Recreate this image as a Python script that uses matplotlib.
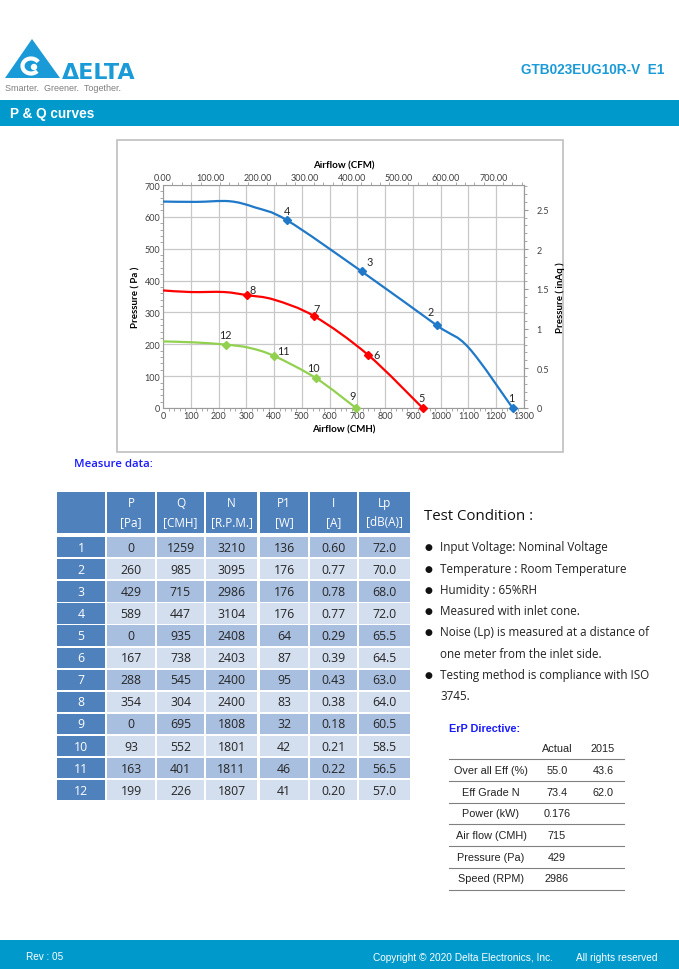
import numpy as np
import matplotlib
matplotlib.use("Agg")
import matplotlib.pyplot as plt
from matplotlib.path import Path
from matplotlib.patches import PathPatch, Polygon, Rectangle, Circle, Arc
from matplotlib.ticker import MultipleLocator, FixedLocator, FuncFormatter

# measured points (table)
p_pa = [0, 260, 429, 589, 0, 167, 288, 354, 0, 93, 163, 199]
q_cmh = [1259, 985, 715, 447, 935, 738, 545, 304, 695, 552, 401, 226]
n_rpm = [3210, 3095, 2986, 3104, 2408, 2403, 2400, 2400, 1808, 1801, 1811, 1807]
p1_w = [136, 176, 176, 176, 64, 87, 95, 83, 32, 42, 46, 41]
i_a = ["0.60", "0.77", "0.78", "0.77", "0.29", "0.39", "0.43", "0.38", "0.18", "0.21", "0.22", "0.20"]
lp_dba = ["72.0", "70.0", "68.0", "72.0", "65.5", "64.5", "63.0", "64.0", "60.5", "58.5", "56.5", "57.0"]

# curve traces (CMH, Pa)
blue_q = [0, 120, 240, 330, 447, 715, 985, 1100, 1259]
blue_p = [648, 647, 649, 630, 589, 429, 260, 190, 0]
red_q = [0, 100, 220, 304, 400, 545, 738, 935]
red_p = [369, 364, 364, 354, 340, 288, 167, 0]
green_q = [0, 110, 226, 310, 401, 552, 695]
green_p = [209, 206, 199, 189, 163, 93, 0]

cfm_ticks = [0, 100, 200, 300, 400, 500, 600, 700]
inaq_ticks = [0, 0.5, 1, 1.5, 2, 2.5]

erp_labels = ["Over all Eff (%)", "Eff Grade N", "Power (kW)", "Air flow (CMH)", "Pressure (Pa)", "Speed (RPM)"]
erp_actual = ["55.0", "73.4", "0.176", "715", "429", "2986"]
erp_2015 = ["43.6", "62.0", "", "", "", ""]

conditions = [
    ["Input Voltage: Nominal Voltage"],
    ["Temperature : Room Temperature"],
    ["Humidity : 65%RH"],
    ["Measured with inlet cone."],
    ["Noise (Lp) is measured at a distance of", "one meter from the inlet side."],
    ["Testing method is compliance with ISO", "3745."],
]

W, H = 679, 970
BRAND = "#0099cc"
LOGO = "#1a9ad6"
TBL_DARK = "#4f81bd"
ROW_A = "#a9bfdf"
ROW_B = "#d3deee"
SANS = ["Open Sans", "DejaVu Sans"]
ARIAL = ["Liberation Sans", "DejaVu Sans"]
CHART = ["Lato", "DejaVu Sans"]

fig = plt.figure(figsize=(W / 100, H / 100), dpi=100)
bg = fig.add_axes([0, 0, 1, 1])
bg.set_xlim(0, W)
bg.set_ylim(H, 0)
bg.axis("off")

# ---- header ----
bg.add_patch(Polygon([(5, 79), (32, 40), (60, 79)], closed=True, fc=LOGO, ec="none"))
bg.add_patch(Arc((31, 67), 17, 15, theta1=40, theta2=330, color="white", lw=3))
bg.add_patch(Circle((34, 68), 3.2, fc="white", ec="none"))
bg.text(62, 79, "ΔELTA", fontsize=16, fontweight="heavy", color=LOGO,
        family=["DejaVu Sans"], ha="left", va="baseline")
bg.text(5, 91, "Smarter.  Greener.  Together.", fontsize=6.5, color="#7f7f7f",
        family=ARIAL, ha="left", va="baseline")
bg.text(664, 70, "GTB023EUG10R-V  E1", fontsize=9.8, fontweight="bold", color=LOGO,
        family=ARIAL, ha="right", va="center")
bg.add_patch(Rectangle((0, 101), W, 26, fc=BRAND, ec="none"))
bg.text(10, 114, "P & Q curves", fontsize=9.8, fontweight="bold", color="white",
        family=ARIAL, ha="left", va="center")

# ---- chart frame ----
bg.add_patch(Rectangle((116.5, 140.5), 446, 312, fc="white", ec="#bfbfbf", lw=1.2))

ax = fig.add_axes([163 / W, 1 - 409 / H, (524 - 163) / W, (409 - 186) / H])
ax.set_xlim(0, 1300)
ax.set_ylim(0, 700)
ax.xaxis.set_major_locator(MultipleLocator(100))
ax.yaxis.set_major_locator(MultipleLocator(100))
ax.xaxis.set_minor_locator(MultipleLocator(20))
ax.yaxis.set_minor_locator(MultipleLocator(20))
ax.grid(True, which="major", color="#c8c8c8", lw=0.9)
ax.set_axisbelow(True)
for s in ax.spines.values():
    s.set_color("#9a9a9a")
    s.set_linewidth(0.8)
ax.tick_params(which="both", direction="out", color="#9a9a9a", labelsize=6.5, labelcolor="#404040", pad=2)
ax.tick_params(which="major", length=0)
ax.tick_params(which="minor", length=2)
for lab in ax.get_xticklabels() + ax.get_yticklabels():
    lab.set_family(CHART)
ax.set_xlabel("Airflow (CMH)", fontsize=7, fontweight="bold", family=CHART, labelpad=3)
ax.set_ylabel("Pressure ( Pa )", fontsize=7, fontweight="bold", family=CHART, labelpad=3)

top = ax.secondary_xaxis("top", functions=(lambda q: q / 1.699, lambda c: c * 1.699))
top.xaxis.set_major_locator(FixedLocator(cfm_ticks))
top.xaxis.set_minor_locator(MultipleLocator(20))
top.xaxis.set_major_formatter(FuncFormatter(lambda v, p: f"{v:.2f}"))
top.tick_params(which="both", direction="out", color="#9a9a9a", labelsize=6.5, labelcolor="#404040", pad=2)
top.tick_params(which="major", length=0)
top.tick_params(which="minor", length=2)
for lab in top.get_xticklabels():
    lab.set_family(CHART)
top.set_xlabel("Airflow (CFM)", fontsize=7, fontweight="bold", family=CHART, labelpad=4)
top.spines["top"].set_visible(False)

right = ax.secondary_yaxis("right", functions=(lambda p: p / 249.09, lambda a: a * 249.09))
right.yaxis.set_major_locator(FixedLocator(inaq_ticks))
right.yaxis.set_minor_locator(MultipleLocator(0.1))
right.yaxis.set_major_formatter(FuncFormatter(lambda v, p: f"{v:g}"))
right.tick_params(which="both", direction="out", color="#9a9a9a", labelsize=6.5, labelcolor="#404040", pad=6)
right.tick_params(which="major", length=3)
right.tick_params(which="minor", length=2)
for lab in right.get_yticklabels():
    lab.set_family(CHART)
right.set_ylabel("Pressure ( inAq )", fontsize=7, fontweight="bold", family=CHART, labelpad=5)
right.spines["right"].set_color("#9a9a9a")


def smooth_path(xs, ys):
    pts = np.column_stack([xs, ys]).astype(float)
    ext = np.vstack([pts[0], pts, pts[-1]])
    verts = [pts[0]]
    codes = [Path.MOVETO]
    for i in range(1, len(ext) - 2):
        p0, p1, p2, p3 = ext[i - 1], ext[i], ext[i + 1], ext[i + 2]
        verts += [p1 + (p2 - p0) / 6, p2 - (p3 - p1) / 6, p2]
        codes += [Path.CURVE4] * 3
    return Path(verts, codes)


curves = [(blue_q, blue_p, "#1f78c8", range(0, 4)),
          (red_q, red_p, "#ff0000", range(4, 8)),
          (green_q, green_p, "#92d050", range(8, 12))]
# label offsets in points (dx, dy)
offs = {1: (-1, 7.5), 2: (-4.5, 9.5), 3: (5.5, 7), 4: (0, 7), 5: (-0.5, 7.5), 6: (6.5, 0),
        7: (1.5, 5.5), 8: (3.5, 4), 9: (-2.5, 9), 10: (-2, 7.5), 11: (6.5, 4), 12: (0, 7)}
for xs, ys, col, idx in curves:
    ax.add_patch(PathPatch(smooth_path(xs, ys), fill=False, ec=col, lw=1.6, zorder=3))
    mq = [q_cmh[i] for i in idx]
    mp = [p_pa[i] for i in idx]
    ax.plot(mq, mp, ls="none", marker="D", ms=4.5, color=col, zorder=4, clip_on=False)
    for i in idx:
        dx, dy = offs[i + 1]
        ax.annotate(str(i + 1), (q_cmh[i], p_pa[i]), xytext=(dx, dy), textcoords="offset points",
                    ha="center", va="center", fontsize=7.8, family=CHART, color="#262626")

# ---- measure data table ----
bg.text(74, 465, "Measure data:", fontsize=8.2, fontweight="semibold", color="#1a1aff",
        family=SANS, ha="left", va="center")
col_l = [57, 107, 157, 206, 260, 310, 359]
col_r = [105, 155, 204, 257, 308, 357, 410]
heads = [("", ""), ("P", "[Pa]"), ("Q", "[CMH]"), ("N", "[R.P.M.]"), ("P1", "[W]"), ("I", "[A]"), ("Lp", "[dB(A)]")]
for c, (h1, h2) in enumerate(heads):
    bg.add_patch(Rectangle((col_l[c], 493), col_r[c] - col_l[c], 41, fc=TBL_DARK, ec="none"))
    cx = (col_l[c] + col_r[c]) / 2
    bg.text(cx, 504, h1, fontsize=8.5, color="white", family=SANS, ha="center", va="center")
    bg.text(cx, 523, h2, fontsize=8.5, color="white", family=SANS, ha="center", va="center")
for r in range(12):
    y0 = 538 + r * 22.1
    vals = [str(r + 1), str(p_pa[r]), str(q_cmh[r]), str(n_rpm[r]), str(p1_w[r]), i_a[r], lp_dba[r]]
    for c, v in enumerate(vals):
        fc = TBL_DARK if c == 0 else (ROW_A if r % 2 == 0 else ROW_B)
        bg.add_patch(Rectangle((col_l[c], y0), col_r[c] - col_l[c], 20.3, fc=fc, ec="none"))
        bg.text((col_l[c] + col_r[c]) / 2, y0 + 10.2, v, fontsize=8.8,
                color="white" if c == 0 else "#262626", family=SANS, ha="center", va="center")

# ---- test condition ----
bg.text(424, 517, "Test Condition :", fontsize=10.8, color="#111111", family=SANS, ha="left", va="center")
y = 548
for item in conditions:
    bg.text(428, y, "●", fontsize=6.5, color="#111111", family=["DejaVu Sans"], ha="center", va="center")
    for line in item:
        bg.text(440, y, line, fontsize=8.4, color="#222222", family=SANS, ha="left", va="center")
        y += 21.2

# ---- ErP directive ----
bg.text(449, 729, "ErP Directive:", fontsize=7.8, fontweight="bold", color="#1a1aff",
        family=ARIAL, ha="left", va="center")
bg.text(557, 749, "Actual", fontsize=7.8, color="#222222", family=ARIAL, ha="center", va="center")
bg.text(603, 749, "2015", fontsize=7.8, color="#222222", family=ARIAL, ha="center", va="center")
bg.plot([449, 624], [760, 760], color="#808080", lw=0.8)
for r, lab in enumerate(erp_labels):
    yc = 771 + r * 21.7
    bg.text(491, yc, lab, fontsize=7.8, color="#222222", family=ARIAL, ha="center", va="center")
    bg.text(557, yc, erp_actual[r], fontsize=7.8, color="#222222", family=ARIAL, ha="center", va="center")
    bg.text(603, yc, erp_2015[r], fontsize=7.8, color="#222222", family=ARIAL, ha="center", va="center")
    bg.plot([449, 624], [yc + 11, yc + 11], color="#808080", lw=0.8)

# ---- footer ----
bg.add_patch(Rectangle((0, 941), W, 29, fc=BRAND, ec="none"))
bg.text(26, 957, "Rev : 05", fontsize=7.2, color="white", family=ARIAL, ha="left", va="center")
bg.text(373, 958, "Copyright © 2020 Delta Electronics, Inc.", fontsize=7.3, color="white",
        family=ARIAL, ha="left", va="center")
bg.text(658, 958, "All rights reserved", fontsize=7.3, color="white", family=ARIAL, ha="right", va="center")

fig.savefig("out.png", dpi=100)
